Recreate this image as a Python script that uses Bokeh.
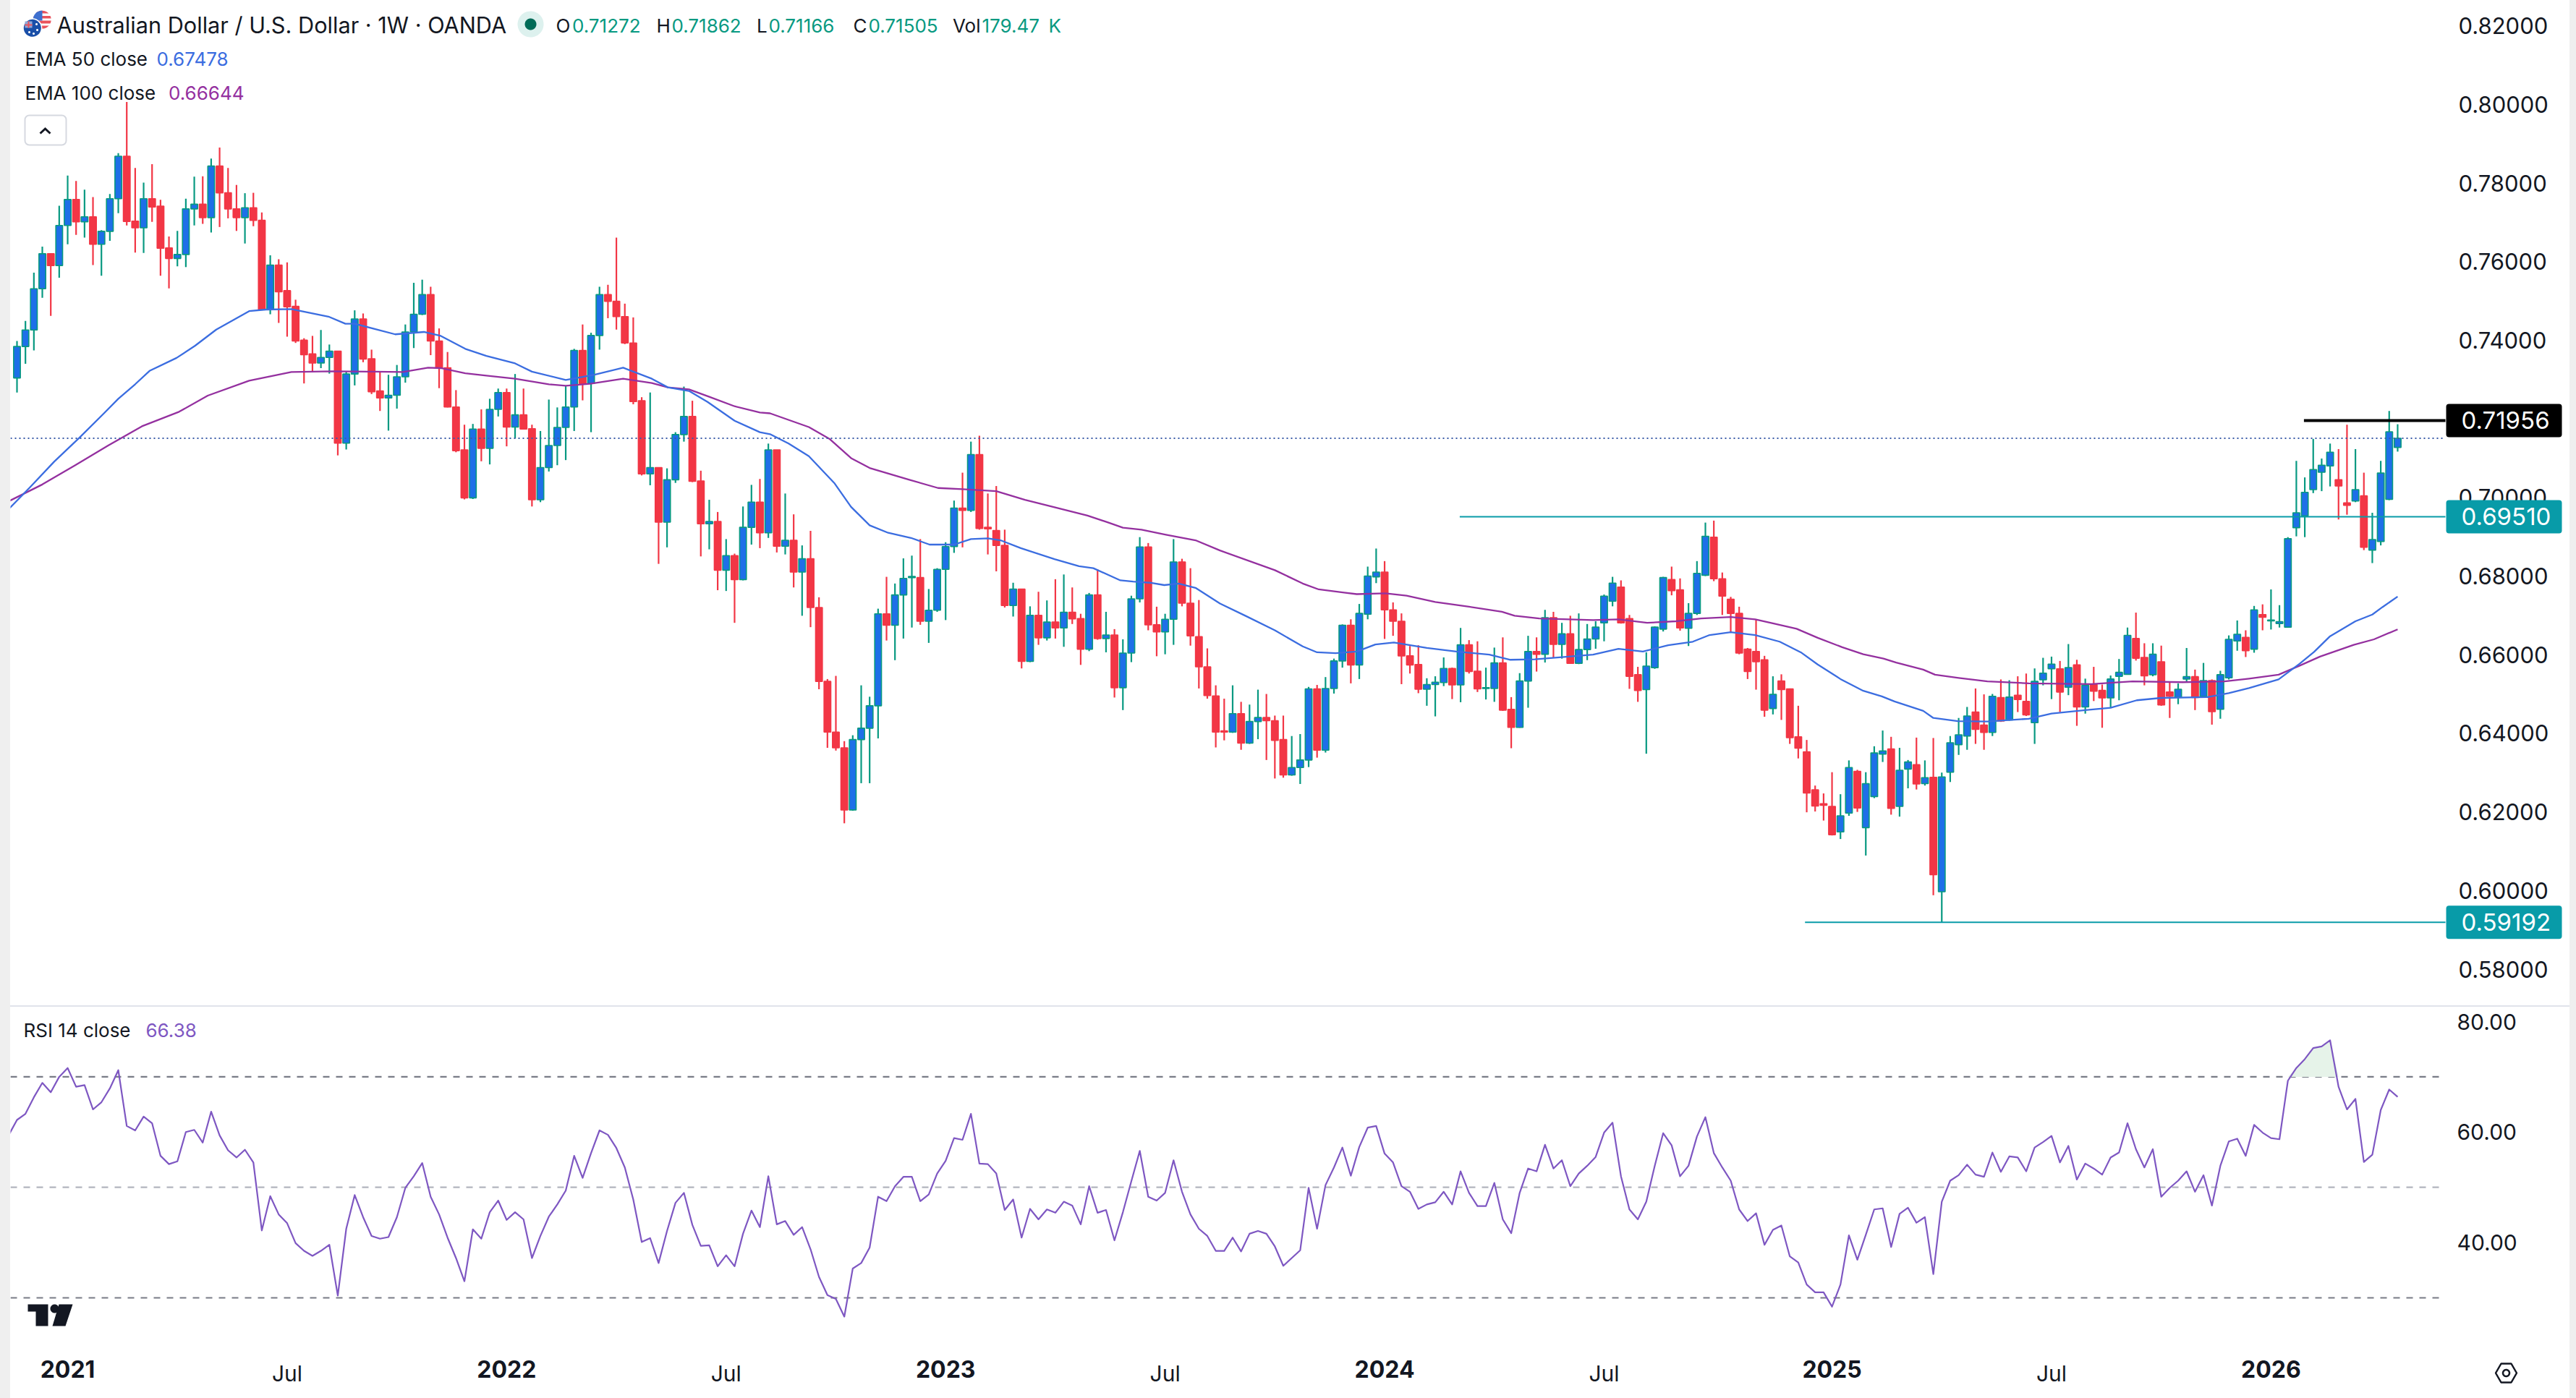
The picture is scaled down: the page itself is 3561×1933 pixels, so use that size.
import numpy as np
from bokeh.embed import file_html
from bokeh.resources import INLINE
from bokeh.plotting import figure
from bokeh.layouts import column
from bokeh.models import (Range1d, LinearAxis, FixedTicker, NumeralTickFormatter, Label,
                          PolyAnnotation, BoxAnnotation, Spacer, ColumnDataSource)

# ---------- data (weekly bars, index 0 = first visible bar) ----------
opens = [
 .7304,.7384,.7426,.7531,.7620,.7590,.7692,.7758,.7701,.7714,
 .7644,.7677,.7760,.7868,.7703,.7686,.7760,.7741,.7635,.7608,
 .7618,.7734,.7746,.7712,.7843,.7775,.7734,.7712,.7737,.7705,
 .7478,.7591,.7526,.7486,.7400,.7365,.7342,.7356,.7372,.7138,
 .7314,.7454,.7353,.7271,.7253,.7260,.7307,.7421,.7466,.7516,
 .7398,.7330,.7230,.7121,.6999,.7174,.7125,.7224,.7267,.7179,
 .7210,.7175,.6994,.7076,.7132,.7178,.7230,.7374,.7290,.7412,
 .7516,.7499,.7460,.7393,.7246,.7060,
 .7076,.6937,.7045,.7160,.7206,.7042,.6933,.6939,.6815,.6852,
 .6791,.6924,.6988,.6910,.7121,.6876,.6891,.6810,.6844,.6720,
 .6532,.6403,.6363,.6205,.6384,.6413,.6470,.6704,.6675,.6752,
 .6796,.6796,.6685,.6713,.6817,.6875,.6973,.6967,.7109,.6924,
 .6916,.6878,.6725,.6767,.6583,.6700,.6643,.6683,.6668,.6708,
 .6692,.6614,.6752,.6641,.6650,.6516,.6604,.6742,.6874,.6676,
 .6658,.6690,.6836,.6731,.6646,.6569,.6495,.6406,.6403,.6450,
 .6375,.6430,.6440,.6432,.6384,.6294,.6313,
 .6332,.6513,.6357,.6514,.6584,.6675,.6574,.6703,.6798,.6810,
 .6714,.6685,.6597,.6575,.6512,.6524,.6529,.6565,.6523,.6625,
 .6558,.6514,.6514,.6579,.6461,.6415,.6533,.6608,.6601,.6694,
 .6626,.6653,.6578,.6613,.6640,.6681,.6736,.6772,.6692,.6549,
 .6511,.6567,.6665,.6791,.6765,.6667,.6705,.6802,.6899,.6793,
 .6741,.6705,.6614,.6608,.6587,.6463,.6533,.6513,.6391,.6353,
 .6256,.6221,.6214,.6149,.6197,.6303,.6160,.6239,.6347,.6360,
 .6214,.6309,.6320,.6272,.6288,.5997,.6301,
 .6371,.6393,.6454,.6421,.6402,.6491,.6434,.6497,.6481,.6427,
 .6536,.6564,.6564,.6517,.6574,.6467,.6524,.6509,.6490,.6545,
 .6550,.6641,.6593,.6549,.6582,.6505,.6492,.6538,.6544,.6494,
 .6534,.6461,.6541,.6635,.6644,.6614,.6702,.6686,.6679,.6670,
 .6923,.6953,.7020,.7064,.7080,.7045,.6986,.6991,.7004,.6866,
 .6888,.6995,.71272]
highs = [
 .7398,.7449,.7572,.7638,.7620,.7742,.7819,.7805,.7783,.7764,
 .7680,.7772,.7876,.8006,.7838,.7801,.7848,.7757,.7664,.7678,
 .7760,.7816,.7817,.7862,.7890,.7838,.7795,.7774,.7775,.7725,
 .7616,.7606,.7598,.7503,.7405,.7411,.7426,.7389,.7372,.7321,
 .7476,.7468,.7376,.7321,.7312,.7337,.7440,.7546,.7554,.7536,
 .7430,.7370,.7273,.7185,.7187,.7224,.7251,.7277,.7277,.7314,
 .7277,.7185,.7169,.7249,.7229,.7284,.7378,.7440,.7419,.7536,
 .7541,.7661,.7493,.7458,.7255,.7267,
 .7076,.7074,.7166,.7282,.7246,.7068,.6994,.6963,.6894,.6857,
 .6977,.7032,.7047,.7137,.7121,.7010,.6957,.6878,.6915,.6746,
 .6538,.6546,.6380,.6395,.6522,.6493,.6717,.6798,.6781,.6845,
 .6852,.6894,.6767,.6820,.6886,.6992,.7063,.7142,.7157,.7010,
 .7029,.6918,.6783,.6767,.6723,.6760,.6738,.6792,.6804,.6771,
 .6704,.6757,.6817,.6709,.6665,.6639,.6750,.6899,.6884,.6722,
 .6704,.6894,.6844,.6820,.6739,.6616,.6522,.6488,.6522,.6480,
 .6473,.6511,.6500,.6445,.6445,.6393,.6398,
 .6518,.6523,.6543,.6590,.6677,.6690,.6729,.6824,.6870,.6838,
 .6733,.6705,.6622,.6624,.6540,.6545,.6593,.6567,.6668,.6637,
 .6634,.6567,.6618,.6644,.6492,.6553,.6648,.6644,.6714,.6709,
 .6681,.6699,.6705,.6678,.6685,.6753,.6798,.6789,.6701,.6569,
 .6606,.6672,.6798,.6824,.6794,.6731,.6838,.6936,.6941,.6809,
 .6747,.6722,.6617,.6689,.6597,.6545,.6550,.6514,.6470,.6383,
 .6267,.6247,.6301,.6245,.6331,.6307,.6301,.6367,.6407,.6391,
 .6363,.6332,.6389,.6331,.6388,.6300,.6393,
 .6439,.6467,.6514,.6499,.6500,.6537,.6535,.6545,.6552,.6565,
 .6592,.6595,.6584,.6627,.6587,.6539,.6569,.6524,.6547,.6589,
 .6669,.6707,.6629,.6629,.6623,.6532,.6527,.6617,.6562,.6579,
 .6537,.6559,.6649,.6687,.6662,.6724,.6728,.6766,.6726,.6899,
 .7093,.7051,.7149,.7099,.7137,.7123,.7185,.7123,.7063,.6961,
 .7093,.7220,.71862]
lows = [
 .7267,.7340,.7374,.7508,.7462,.7559,.7644,.7668,.7661,.7591,
 .7564,.7653,.7723,.7692,.7623,.7622,.7701,.7564,.7532,.7588,
 .7586,.7692,.7696,.7674,.7688,.7710,.7678,.7646,.7690,.7476,
 .7466,.7444,.7409,.7393,.7290,.7318,.7329,.7315,.7107,.7122,
 .7285,.7344,.7263,.7220,.7170,.7226,.7292,.7380,.7464,.7362,
 .7278,.7229,.7115,.6995,.6996,.7092,.7084,.7206,.7130,.7150,
 .7173,.6977,.6988,.7066,.7082,.7095,.7169,.7247,.7166,.7376,
 .7456,.7427,.7390,.7237,.7056,.7031,
 .6831,.6873,.7037,.7142,.7039,.6850,.6868,.6764,.6762,.6681,
 .6789,.6880,.6871,.6897,.6860,.6855,.6771,.6699,.6670,.6512,
 .6363,.6356,.6171,.6203,.6273,.6273,.6387,.6636,.6586,.6641,
 .6669,.6676,.6630,.6709,.6688,.6859,.6873,.6963,.6918,.6855,
 .6812,.6720,.6697,.6565,.6581,.6625,.6636,.6641,.6620,.6678,
 .6574,.6609,.6638,.6606,.6491,.6459,.6581,.6733,.6662,.6596,
 .6601,.6625,.6723,.6623,.6514,.6488,.6364,.6382,.6401,.6358,
 .6373,.6385,.6332,.6285,.6287,.6292,.6271,
 .6314,.6338,.6351,.6501,.6567,.6527,.6538,.6690,.6782,.6640,
 .6648,.6525,.6552,.6502,.6470,.6443,.6520,.6487,.6479,.6552,
 .6505,.6486,.6480,.6457,.6362,.6414,.6465,.6557,.6580,.6593,
 .6590,.6577,.6576,.6586,.6615,.6634,.6723,.6679,.6513,.6480,
 .6348,.6564,.6659,.6751,.6661,.6622,.6701,.6800,.6787,.6701,
 .6657,.6601,.6538,.6511,.6442,.6448,.6434,.6373,.6336,.6199,
 .6201,.6178,.6140,.6131,.6190,.6200,.6089,.6235,.6327,.6193,
 .6188,.6260,.6257,.6267,.5988,.5919,.6276,
 .6345,.6358,.6373,.6358,.6393,.6429,.6432,.6454,.6444,.6373,
 .6522,.6487,.6454,.6497,.6419,.6450,.6482,.6414,.6464,.6484,
 .6549,.6585,.6522,.6545,.6470,.6439,.6474,.6529,.6459,.6490,
 .6422,.6437,.6537,.6610,.6594,.6605,.6662,.6664,.6669,.6669,
 .6901,.6899,.7011,.7016,.7028,.6944,.6956,.6988,.6866,.6833,
 .6878,.6993,.71166]
closes = [
 .7384,.7426,.7531,.7620,.7590,.7692,.7758,.7701,.7714,.7644,
 .7677,.7760,.7868,.7702,.7686,.7760,.7739,.7634,.7608,.7618,
 .7734,.7746,.7712,.7843,.7775,.7734,.7712,.7737,.7705,.7478,
 .7591,.7523,.7485,.7398,.7363,.7342,.7356,.7372,.7138,.7314,
 .7454,.7352,.7269,.7253,.7260,.7307,.7421,.7466,.7516,.7398,
 .7330,.7230,.7119,.6999,.7174,.7125,.7224,.7267,.7179,.7210,
 .7174,.6994,.7076,.7132,.7178,.7230,.7374,.7290,.7412,.7516,
 .7499,.7460,.7393,.7244,.7060,.7076,
 .6937,.7045,.7160,.7206,.7041,.6933,.6939,.6815,.6852,.6791,
 .6924,.6988,.6910,.7121,.6876,.6891,.6810,.6844,.6720,.6532,
 .6403,.6363,.6205,.6384,.6413,.6470,.6704,.6675,.6752,.6794,
 .6799,.6685,.6713,.6817,.6875,.6973,.6967,.7109,.6921,.6920,
 .6878,.6725,.6767,.6583,.6700,.6643,.6683,.6668,.6708,.6691,
 .6614,.6752,.6641,.6650,.6516,.6604,.6742,.6874,.6676,.6658,
 .6690,.6836,.6731,.6648,.6569,.6496,.6403,.6403,.6450,.6375,
 .6430,.6440,.6432,.6382,.6294,.6313,.6332,
 .6513,.6357,.6514,.6584,.6675,.6574,.6705,.6800,.6810,.6714,
 .6685,.6597,.6574,.6512,.6524,.6530,.6565,.6523,.6625,.6557,
 .6513,.6516,.6579,.6459,.6415,.6533,.6608,.6601,.6694,.6626,
 .6653,.6578,.6613,.6640,.6670,.6749,.6782,.6681,.6545,.6509,
 .6571,.6670,.6796,.6763,.6668,.6705,.6807,.6901,.6793,.6749,
 .6705,.6604,.6557,.6582,.6459,.6499,.6511,.6389,.6362,.6248,
 .6215,.6217,.6142,.6190,.6313,.6210,.6272,.6350,.6355,.6209,
 .6306,.6327,.6271,.6287,.6040,.6289,.6376,
 .6396,.6444,.6410,.6402,.6494,.6431,.6492,.6486,.6447,.6532,
 .6553,.6576,.6505,.6567,.6467,.6522,.6507,.6490,.6538,.6555,
 .6649,.6591,.6546,.6601,.6472,.6494,.6512,.6544,.6491,.6534,
 .6455,.6549,.6639,.6652,.6610,.6714,.6695,.6688,.6684,.6895,
 .6961,.7013,.7071,.7082,.7115,.7029,.6980,.7020,.6873,.6893,
 .7062,.7167,.71505]

ema50_x = [-1,1.5,4.4,7.4,10.3,12,14,15.7,18.9,21.1,23.6,27.5,29.5,32.5,36.9,38.9,40,44.8,48.2,50.2,53.1,55.6,59,61,65,68.4,71.8,75.2,
           77.1,79.6,81.8,85,88,89.2,91.4,93.8,96.8,98.8,101,103.2,105.9,108.1,111,113,115,116.5,118.9,122.9,125.8,127.5,130.7,132.2,134.2,135.9,137.6,139.6,142.5,145.5,149,152.3,
           154,156.2,158.7,160.9,163.1,167,170.5,174.4,176.9,179.8,183.8,186.7,189.7,192.6,195.6,198.5,200.5,203,205.9,208.8,211.3,213.3,216,218.7,220.9,222.4,225.8,227,
           229.9,233.4,238.3,241,245,248,251.1,254,259.5,262,264.4,267.9,270.4,272.1,274,277,279,280.2,282]
ema50_y = [.6970,.7025,.7091,.7152,.7214,.7251,.7288,.7322,.7355,.7386,.7427,.7474,.7478,.7479,.7460,.7442,.7442,.7415,.7421,.7411,.7378,.7360,.7341,.7320,.7299,.7312,.7330,.7302,
           .7280,.7271,.7243,.7195,.7166,.7161,.7137,.7105,.7037,.6976,.6929,.6910,.6897,.6880,.6880,.6894,.6896,.6891,.6871,.6843,.6825,.6820,.6789,.6786,.6783,.6777,.6781,.6770,.6730,.6699,.6662,.6621,
           .6606,.6604,.6608,.6626,.6631,.6617,.6608,.6600,.6587,.6588,.6595,.6600,.6615,.6608,.6624,.6633,.6650,.6657,.6650,.6633,.6606,.6575,.6538,.6508,.6494,.6481,.6457,.6439,
           .6431,.6430,.6437,.6450,.6459,.6465,.6484,.6490,.6492,.6502,.6515,.6537,.6577,.6607,.6647,.6685,.6702,.6721,.67478]
ema100_x = [-1,3,6.9,10.8,14.8,19.2,22.6,27.5,30,32.5,37.4,42.3,45.7,48.7,50.2,53.1,55.6,59,63,65,67.9,71.8,75.2,
            77.1,79.6,82,85,88,89.2,93.8,96.3,98.8,101,105.7,109.1,112,116,119.4,122.9,126.8,129.3,131,133.2,136.1,139.6,142.5,149,152.3,
            154.2,157.2,158.7,162.1,164.6,168,172,175.9,177.4,180.3,186.7,189.7,193.1,196.5,199.5,203,205.9,207.9,210.8,213.3,216.2,218.7,221.1,222.6,225.8,227.2,
            230,233.4,238.3,245.7,250.6,256.5,261.5,264.4,267.9,270.4,272.8,276.8,279.2,282]
ema100_y = [.6990,.7033,.7082,.7132,.7181,.7218,.7259,.7297,.7308,.7319,.7321,.7320,.7319,.7330,.7329,.7316,.7310,.7302,.7288,.7284,.7289,.7302,.7291,
            .7280,.7275,.7256,.7232,.7216,.7214,.7179,.7148,.7100,.7075,.7045,.7024,.7021,.7016,.6994,.6975,.6954,.6936,.6923,.6918,.6905,.6891,.6865,.6815,.6781,
            .6766,.6758,.6754,.6756,.6750,.6734,.6722,.6709,.6699,.6692,.6688,.6690,.6681,.6685,.6692,.6696,.6690,.6680,.6666,.6643,.6619,.6601,.6590,.6580,.6562,.6549,
            .6541,.6532,.6527,.6525,.6532,.6530,.6532,.6539,.6549,.6572,.6595,.6625,.6639,.66644]

rsi = [59.4,62.2,63.3,66.3,68.9,67.2,70.0,71.6,68.2,68.5,64.1,65.4,67.9,71.2,61.1,60.3,62.8,61.6,55.7,54.2,54.7,
       60.0,60.4,58.1,63.7,59.4,56.7,55.4,56.8,54.5,42.2,48.4,45.1,43.5,39.9,38.5,37.6,38.5,39.6,30.4,42.5,
       48.6,44.6,41.2,40.7,41.0,44.6,49.9,52.0,54.4,48.3,45.1,40.9,37.2,33.0,42.4,40.7,45.5,47.6,44.1,45.5,
       44.2,37.2,41.2,44.7,46.9,49.4,55.7,51.7,56.2,60.3,59.5,57.1,53.6,47.8,40.1,40.8,36.3,42.1,47.2,49.0,
       43.2,39.4,39.5,35.7,37.7,35.7,41.6,45.8,42.8,52.0,43.3,43.9,41.4,42.8,38.8,33.8,30.5,29.8,26.6,35.3,
       36.3,39.1,48.3,47.5,50.2,51.9,51.9,47.5,48.7,52.5,54.8,58.9,58.6,63.3,54.3,54.2,52.5,45.9,47.8,40.9,
       46.1,44.2,46.0,45.4,47.4,46.7,43.3,50.2,45.4,45.9,40.4,45.5,51.1,56.6,48.3,47.6,49.0,54.9,49.2,45.1,
       42.5,41.2,38.5,38.5,40.9,38.4,41.6,42.1,41.6,39.3,35.8,37.2,38.6,
       49.9,42.5,50.4,53.6,57.2,52.1,57.3,60.8,61.1,56.1,54.5,50.2,49.2,46.1,46.9,47.3,49.2,46.9,52.9,49.0,
       46.6,46.6,50.8,44.2,41.7,49.0,53.4,52.9,57.7,53.4,54.9,50.2,52.5,53.9,55.5,59.9,61.7,52.0,46.0,44.2,
       47.4,53.9,59.8,57.6,52.0,53.9,59.2,62.7,56.2,53.6,51.2,46.0,43.9,45.3,39.6,42.3,43.1,37.5,36.4,32.4,
       31.0,31.0,28.4,32.4,41.3,36.9,41.4,46.0,46.2,39.2,45.2,46.3,43.6,44.6,34.3,47.4,51.2,52.2,54.1,52.3,
       51.9,56.3,52.8,55.6,55.4,52.9,57.2,58.2,59.3,54.5,57.5,51.4,54.3,53.4,52.3,55.4,56.3,61.6,56.9,53.6,
       56.9,48.3,49.9,51.2,52.9,49.2,52.2,46.7,53.9,58.3,58.8,55.7,61.3,59.9,58.9,58.7,69.3,71.6,73.2,75.2,
       75.5,76.6,68.2,64.1,66.0,54.6,55.9,64.0,67.7,66.38]

price_ticks = [0.58,0.60,0.62,0.64,0.66,0.68,0.70,0.72,0.74,0.76,0.78,0.80,0.82]
rsi_ticks = [40,60,80]
rsi_levels = [70,50,30]
levels = [0.71956,0.69510,0.59192]
level_start = [270.9,170.9,211.8]
year_ticks = [6,58,110,162,215,267]
year_labels = ["2021","2022","2023","2024","2025","2026"]
jul_ticks = [32,84,136,188,241]

# ---------- colours / page geometry ----------
UP="#1E6FE8"; UPW="#089981"; DN="#F23645"; INK="#131722"; TEAL="#089BA8"
BLUE="#3B6DE0"; PURP="#94309F"; RSIC="#7E57C2"; FONT="Inter"
def X(px): return (px-23)/11.67
def Y(py): return 0.68+(796-py)*0.02/108.7
def YR(py): return 80-(py-1412)/7.64

x_range = Range1d(X(14),X(3552))
common = dict(output_backend="svg",toolbar_location=None,x_range=x_range,x_axis_type=None,y_axis_type=None,
              min_border_left=0,min_border_right=0,min_border_top=0,min_border_bottom=0,
              background_fill_color="white",border_fill_color="white",outline_line_color=None)
p = figure(width=3538,height=1382,y_range=Range1d(Y(1390),Y(8)),**common)
p.grid.visible=False

def yaxis(fig,ticks,fmt,size,standoff):
    ax=LinearAxis(fixed_location=X(3380),ticker=FixedTicker(ticks=ticks),formatter=NumeralTickFormatter(format=fmt))
    ax.major_tick_line_color=None; ax.minor_tick_line_color=None; ax.axis_line_color=None
    ax.major_label_text_font=FONT; ax.major_label_text_font_size=f"{size}px"; ax.major_label_text_color=INK
    ax.major_label_standoff=standoff
    fig.add_layout(ax,"right")
yaxis(p,price_ticks,"0.00000",31,12)

bx=np.arange(len(closes)); o=np.array(opens); c=np.array(closes); h=np.array(highs); l=np.array(lows)
up=c>=o
src=ColumnDataSource(dict(x=bx,h=h,l=l,top=np.maximum(o,c),bot=np.minimum(o,c),
    wick=[UPW if u else DN for u in up],fill=[UP if u else DN for u in up]))
p.segment("x","h","x","l",source=src,line_color="wick",line_width=2.2)
p.vbar("x",0.8,"top","bot",source=src,fill_color="fill",line_color="wick",line_width=1.6)
p.line(ema100_x,ema100_y,line_color=PURP,line_width=2.3,line_join="round")
p.line(ema50_x,ema50_y,line_color=BLUE,line_width=2.3,line_join="round")
p.segment([X(14)],[closes[-1]],[X(3380)],[closes[-1]],line_color="#3A5BA8",line_width=2,line_dash="2 4")
lvl_end=[X(3380)]*3
p.segment(level_start,levels,lvl_end,levels,line_color=["#000000",TEAL,TEAL],line_width=[4,2,2])

half=23*0.02/108.7
for v,bg in zip(levels,["#000000",TEAL,TEAL]):
    p.add_layout(BoxAnnotation(left=X(3381),right=X(3541),top=v+half,bottom=v-half,fill_color=bg,fill_alpha=1,
        line_color=None,border_radius=4))
    p.add_layout(Label(x=X(3402),y=v,text=f"{v:.5f}",text_color="white",text_font=FONT,text_font_size="33px",
        text_align="left",text_baseline="middle"))

def txt(fig,yf,px,py,s,col=INK,size=26,style="normal"):
    fig.add_layout(Label(x=X(px),y=yf(py),text=s,text_color=col,text_font=FONT,text_font_size=f"{size}px",
        text_font_style=style,text_align="left",text_baseline="middle"))
def poly(fig,yf,pts,col):
    fig.add_layout(PolyAnnotation(xs=[X(a) for a,_ in pts],ys=[yf(b) for _,b in pts],fill_color=col,fill_alpha=1,line_color=None))
def circ(cx,cy,r,y0=None,y1=None):
    a=np.linspace(0,2*np.pi,60); pts=[(cx+r*np.cos(t),cy+r*np.sin(t)) for t in a]
    if y0 is not None: pts=[(a_,min(max(b_,y0),y1)) for a_,b_ in pts]
    return pts

# header
txt(p,Y,78,34,"Australian Dollar / U.S. Dollar · 1W · OANDA",size=30.7)
for px,s,col in [(768,"O",INK),(790.5,"0.71272",UPW),(907,"H",INK),(928,"0.71862",UPW),(1045.6,"L",INK),(1062,"0.71166",UPW),
                 (1179,"C",INK),(1200,"0.71505",UPW),(1316.5,"Vol",INK),(1357,"179.47",UPW),(1449,"K",UPW)]:
    txt(p,Y,px,35,s,col)
txt(p,Y,34,81,"EMA 50 close"); txt(p,Y,216,81,"0.67478",BLUE)
txt(p,Y,34,128,"EMA 100 close"); txt(p,Y,232.5,128,"0.66644",PURP)
p.add_layout(BoxAnnotation(left=X(34),right=X(91),top=Y(159),bottom=Y(200),fill_color="white",fill_alpha=1,
    line_color="#D6D9E0",line_alpha=1,line_width=2,border_radius=6))
poly(p,Y,[(54,183),(62,175.5),(70,183),(68,185),(62,179.5),(56,185)],INK)
poly(p,Y,circ(733,33,18),"#DDF1EE"); poly(p,Y,circ(733,33,8),"#006B57")
# flag badge
poly(p,Y,circ(57.7,26.7,12.5),"#FFFFFF")
for a,b in [(14,18),(21.5,25),(28,32),(35,39)]:
    poly(p,Y,circ(57.7,26.7,12.5,a,b),"#E9525C")
poly(p,Y,[(p_[0] if p_[0]<58 else 58,min(p_[1],28)) for p_ in circ(57.7,26.7,12.5)],"#3D6FCF")
poly(p,Y,circ(44.3,38.3,13.5),"#FFFFFF"); poly(p,Y,circ(44.3,38.3,12),"#1A4FA8")
poly(p,Y,[(34,29),(44,29),(44,38),(34,38)],"#8FA6D6"); poly(p,Y,[(38,29),(40,29),(40,38),(38,38)],"#E9525C")
poly(p,Y,[(34,33),(44,33),(44,35),(34,35)],"#E9525C")
for a,b in [(40,44),(50,33),(51,41),(46,46)]:
    poly(p,Y,circ(a,b,1.5),"#FFFFFF")

sep=Spacer(width=3538,height=2,styles={"background-color":"#E0E3EB"})

# RSI pane
q = figure(width=3538,height=533,y_range=Range1d(YR(1925),YR(1392)),**common)
q.grid.visible=False
yaxis(q,rsi_ticks,"0.00",30,10)
q.segment([X(14)]*3,rsi_levels,[X(3372)]*3,rsi_levels,line_color=["#787B86","#B2B5BE","#787B86"],line_width=2.2,line_dash="9 9")
rx=np.arange(-1,len(rsi)-1); ra=np.array(rsi)
m=(rx>=269)&(rx<=275)
q.varea(rx[m],np.full(m.sum(),70.0),np.maximum(ra[m],70.0),fill_color="#E6F3E9")
q.line(rx,ra,line_color=RSIC,line_width=2.2,line_join="round")
txt(q,YR,32,1424,"RSI 14 close"); txt(q,YR,201,1424,"66.38",RSIC)

axis_loc=YR(1869)
def xaxis(ticks,labels,style,size):
    ax=LinearAxis(fixed_location=axis_loc,ticker=FixedTicker(ticks=ticks),
        major_label_overrides={t:s for t,s in zip(ticks,labels)})
    ax.major_tick_line_color=None; ax.minor_tick_line_color=None; ax.axis_line_color=None
    ax.major_label_text_font=FONT; ax.major_label_text_font_size=f"{size}px"; ax.major_label_text_color=INK
    ax.major_label_text_font_style=style; ax.major_label_standoff=5
    q.add_layout(ax,"below")
xaxis(year_ticks,year_labels,"bold",32)
xaxis(jul_ticks,["Jul"]*len(jul_ticks),"normal",30)

# TradingView mark
poly(q,YR,[(38,1803),(66,1803),(66,1833),(49,1833),(49,1813),(38,1813)],"#131722")
poly(q,YR,circ(75,1809,6),"#131722")
poly(q,YR,[(81,1803),(100,1803),(90,1833),(72,1833)],"#131722")
# settings hexagon
hexo=[(3449.5,1898),(3457,1885),(3471,1885),(3478.5,1898),(3471,1911),(3457,1911)]
q.add_layout(PolyAnnotation(xs=[X(a) for a,_ in hexo],ys=[YR(b) for _,b in hexo],fill_alpha=0,line_color=INK,line_alpha=1,line_width=2.5))
ci=circ(3464,1898,4.5)
q.add_layout(PolyAnnotation(xs=[X(a) for a,_ in ci],ys=[YR(b) for _,b in ci],fill_alpha=0,line_color=INK,line_alpha=1,line_width=2.5))

page=column(p,sep,q,spacing=0,margin=(8,0,0,14))
html=file_html(page,INLINE)
html=html.replace("</head>","<style>body{background:linear-gradient(to right,#EFEFEF 14px,#FFF 14px,#FFF 3552px,#EFEFEF 3552px)}</style></head>",1)
open("out.html","w").write(html)
